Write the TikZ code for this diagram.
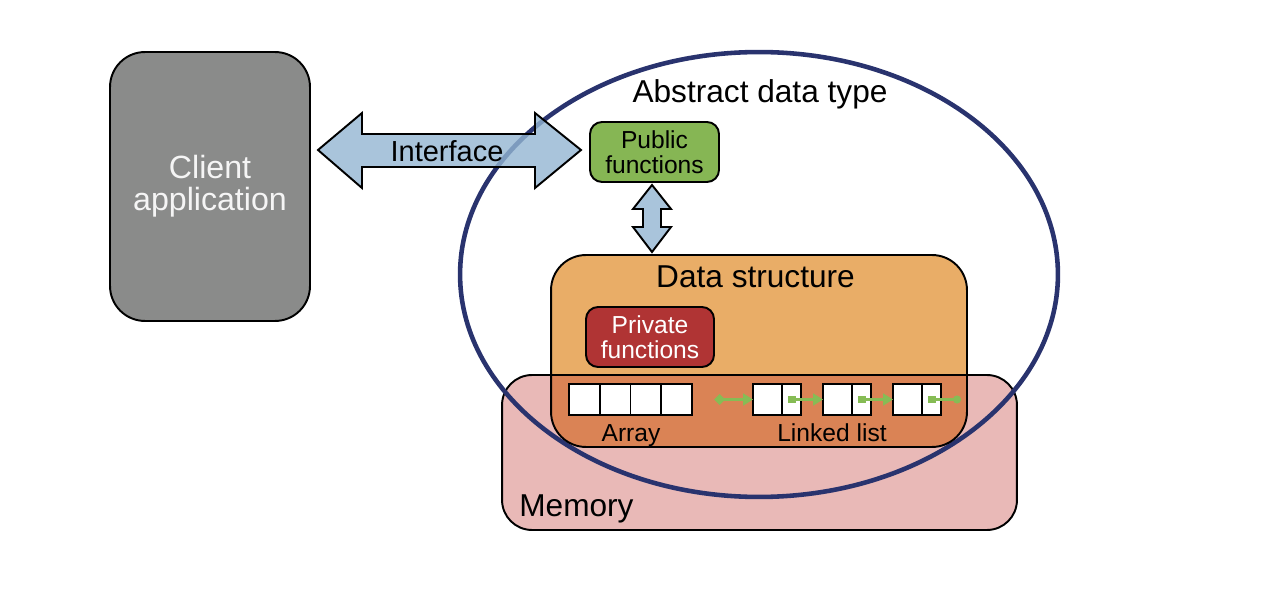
\documentclass[tikz,border=0pt]{standalone}
\usepackage{fontspec}
\setmainfont{Liberation Sans}
\usetikzlibrary{arrows.meta, positioning, shapes.geometric}

\definecolor{clientgray}{HTML}{8A8B8A}
\definecolor{ifaceblue}{HTML}{93B5D2}
\definecolor{ifacelight}{HTML}{A9C4DB}
\definecolor{adtnavy}{HTML}{29336E}
\definecolor{publicgreen}{HTML}{86B654}
\definecolor{dsorange}{HTML}{E9AD67}
\definecolor{dsdeep}{HTML}{DA8355}
\definecolor{privred}{HTML}{B03434}
\definecolor{mempink}{HTML}{E9B9B7}
\definecolor{linkgreen}{HTML}{86BC55}

\begin{document}
\begin{tikzpicture}
[x=0.02cm, y=-0.02cm,
  box/.style={draw, line width=1.1pt, inner sep=0pt, align=center},
  txt/.style={inner sep=0pt, anchor=base},
  cell/.style={draw, fill=white, line width=0.9pt, outer sep=0pt, minimum height=0.62cm},
  link/.style={draw=linkgreen, line width=1.2pt},
  blockarrow/.style={draw, line width=1.1pt, line join=miter},
  >=latex]

\useasboundingbox (0,0) rectangle (1278,604);

\node[box, fill=mempink, rounded corners=0.6cm, minimum width=10.3cm, minimum height=3.1cm] (memory) at (759.5,452.5) {};
\node[txt, anchor=base west, font=\fontsize{18}{20}\selectfont] (memlabel) at (519,516) {Memory};

\node[ellipse, draw=adtnavy, line width=2.6pt, minimum width=11.96cm, minimum height=8.9cm, inner sep=0pt] (adt) at (759,274.5) {};
\node[txt, font=\fontsize{18}{20}\selectfont] (adtlabel) at (760,103) {Abstract data type};

\draw[blockarrow, fill=ifaceblue, fill opacity=0.8] (318,150) -- (362,113) -- (362,134) -- (535,134) -- (535,113) -- (581,150)
  -- (535,188) -- (535,167) -- (362,167) -- (362,188) -- cycle;
\node[txt, font=\fontsize{16.5}{18}\selectfont] (iface) at (447,162) {Interface};

\node[box, fill=clientgray, text=white!96!black, rounded corners=0.7cm, minimum width=4cm, minimum height=5.38cm,
  font=\fontsize{18.3}{18}\selectfont] (client) at (210,186.5) {Client\\application};

\node[box, fill=publicgreen, rounded corners=0.24cm, minimum width=2.58cm, minimum height=1.2cm,
  font=\fontsize{14}{14}\selectfont] (public) at (654.5,152) {Public\\functions};

\draw[blockarrow, fill=ifacelight] (652,185) -- (671,209) -- (661,209) -- (661,227) -- (671,227) -- (652,252)
  -- (633,227) -- (643,227) -- (643,209) -- (633,209) -- cycle;

\node[box, fill=dsorange, rounded corners=0.7cm, minimum width=8.32cm, minimum height=3.84cm,
  path picture={
    \fill[dsdeep, sharp corners] ([yshift=1.44cm]path picture bounding box.south west) rectangle ([yshift=-0.5cm]path picture bounding box.south east);
    \draw[line width=1.1pt, sharp corners] ([yshift=1.44cm]path picture bounding box.south west) -- ([yshift=1.44cm]path picture bounding box.south east);
  }] (ds) at (759,351) {};
\node[txt, font=\fontsize{18}{20}\selectfont] (dslabel) at (755.5,288) {Data structure};

\node[box, fill=privred, text=white, rounded corners=0.24cm, minimum width=2.56cm, minimum height=1.2cm,
  font=\fontsize{14}{14}\selectfont] (private) at (650,337) {Private\\functions};

\foreach \i in {0,...,3}
  \node[cell, minimum width=0.614cm] (arr\i) at (584.4+30.7*\i,399.5) {};
\node[txt, font=\fontsize{14}{16}\selectfont] (arrlabel) at (631,441) {Array};

\foreach \i in {1,2,3} {
  \node[cell, minimum width=0.58cm] (data\i) at (697.5+70*\i,399.5) {};
  \node[cell, minimum width=0.38cm, right=0pt of data\i] (next\i) {};
}
\coordinate (listhead) at (714,399.5);
\coordinate (listnil) at (961,399.5);

\draw[link, {Diamond[length=0.22cm, width=0.22cm]}-{Triangle[length=0.2cm, width=0.24cm]}] (listhead) -- (data1.west);
\foreach \i/\j in {1/2, 2/3}
  \draw[link, {Square[length=0.16cm, width=0.16cm]}-{Triangle[length=0.2cm, width=0.24cm]}] ([xshift=-0.08cm]next\i.center) -- (data\j.west);
\draw[link, {Square[length=0.16cm, width=0.16cm]}-{Circle[length=0.16cm]}] ([xshift=-0.08cm]next3.center) -- (listnil);
\node[txt, font=\fontsize{14}{16}\selectfont] (listlabel) at (832,441) {Linked list};

\end{tikzpicture}
\end{document}
